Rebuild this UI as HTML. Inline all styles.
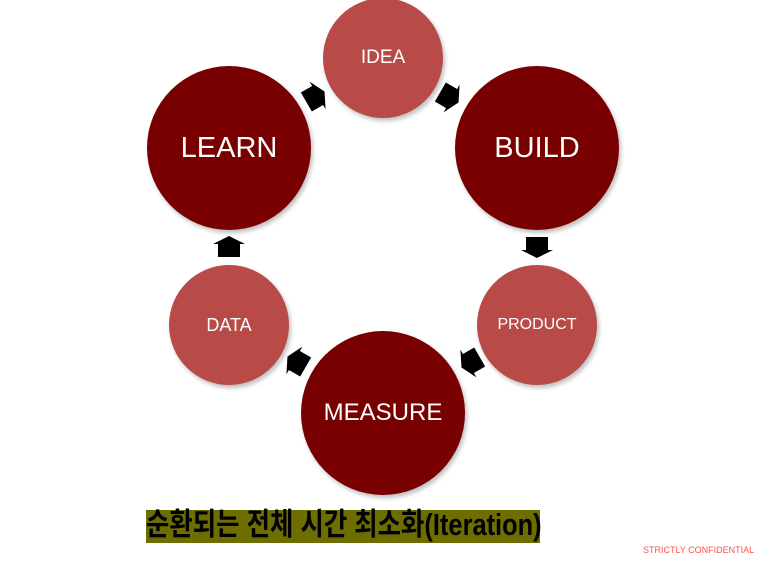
<!DOCTYPE html>
<html><head><meta charset="utf-8"><style>
body{margin:0;width:764px;height:565px;background:#fff;overflow:hidden;position:relative;font-family:"Liberation Sans","Noto Sans CJK KR",sans-serif}
.c{position:absolute;border-radius:50%;color:#fff;display:flex;align-items:center;justify-content:center;box-shadow:2px 3px 4px rgba(0,0,0,.25)}
.d{background:#780000}.l{background:#b84a48}
</style></head><body>
<div class="c l" style="left:323px;top:-2px;width:120px;height:120px;font-size:19px">IDEA</div>
<div class="c d" style="left:147px;top:66px;width:164px;height:164px;font-size:29px">LEARN</div>
<div class="c d" style="left:455px;top:66px;width:164px;height:164px;font-size:29px">BUILD</div>
<div class="c l" style="left:169px;top:265px;width:120px;height:120px;font-size:18px">DATA</div>
<div class="c l" style="left:477px;top:265px;width:120px;height:120px;font-size:16px">PRODUCT</div>
<div class="c d" style="left:301px;top:331px;width:164px;height:164px;font-size:24px">MEASURE</div>
<svg width="764" height="565" style="position:absolute;left:0;top:0">
<g fill="#000">
<polygon points="-10,-11 3,-11 3,-16 11,0 3,16 3,11 -10,11" transform="translate(315,97) rotate(-30)"/>
<polygon points="-10,-11 3,-11 3,-16 11,0 3,16 3,11 -10,11" transform="translate(449,97) rotate(30)"/>
<polygon points="-10,-11 3,-11 3,-16 11,0 3,16 3,11 -10,11" transform="translate(537,247) rotate(90)"/>
<polygon points="-10,-11 3,-11 3,-16 11,0 3,16 3,11 -10,11" transform="translate(471,362) rotate(150)"/>
<polygon points="-10,-11 3,-11 3,-16 11,0 3,16 3,11 -10,11" transform="translate(297,362) rotate(210)"/>
<polygon points="-10,-11 3,-11 3,-16 11,0 3,16 3,11 -10,11" transform="translate(229,247) rotate(-90)"/>
</g></svg>
<div style="position:absolute;left:146px;top:510px;width:394px;height:33px;background:#6e6e00"></div>
<div style="position:absolute;left:146px;top:508px;height:33px;color:#000;font-size:31px;font-weight:bold;line-height:33px;white-space:nowrap;transform-origin:0 0;transform:scaleX(0.82)">순환되는 전체 시간 최소화(Iteration)</div>
<div style="position:absolute;left:643px;top:545px;color:#ff5050;font-size:9px;white-space:nowrap">STRICTLY CONFIDENTIAL</div>
</body></html>
